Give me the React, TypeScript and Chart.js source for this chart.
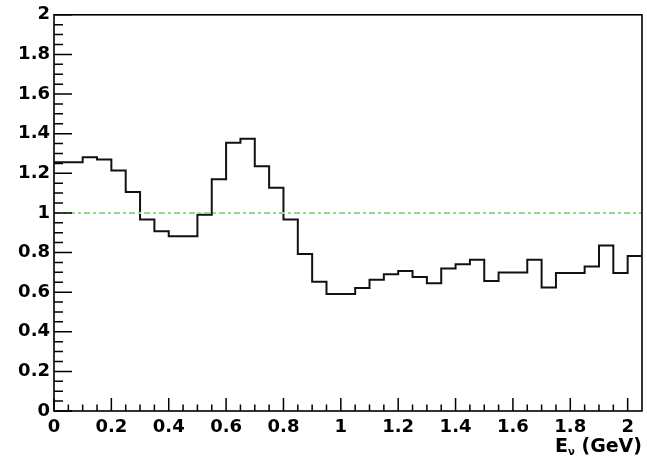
import React, { useEffect, useRef } from "react";
import { Chart, registerables } from "chart.js";

Chart.register(...registerables);

// Bin low edges (GeV) plus the final upper edge
const binEdges = [
  0, 0.05, 0.1, 0.15, 0.2, 0.25, 0.3, 0.35, 0.4, 0.45,
  0.5, 0.55, 0.6, 0.65, 0.7, 0.75, 0.8, 0.85, 0.9, 0.95,
  1.0, 1.05, 1.1, 1.15, 1.2, 1.25, 1.3, 1.35, 1.4, 1.45,
  1.5, 1.55, 1.6, 1.65, 1.7, 1.75, 1.8, 1.85, 1.9, 1.95,
  2.0, 2.05,
];

// Histogram contents per bin
const binValues = [
  1.256, 1.256, 1.281, 1.27, 1.214, 1.105, 0.967, 0.908, 0.882, 0.882,
  0.991, 1.17, 1.354, 1.374, 1.236, 1.127, 0.967, 0.792, 0.653, 0.591,
  0.591, 0.621, 0.663, 0.69, 0.707, 0.677, 0.645, 0.719, 0.741, 0.764,
  0.656, 0.699, 0.699, 0.764, 0.623, 0.697, 0.697, 0.73, 0.836, 0.697,
  0.782,
];

const referenceLevel = 1;

const xTickValues = [0, 0.2, 0.4, 0.6, 0.8, 1, 1.2, 1.4, 1.6, 1.8, 2];
const xTickLabels = ["0", "0.2", "0.4", "0.6", "0.8", "1", "1.2", "1.4", "1.6", "1.8", "2"];
const yTickValues = [0, 0.2, 0.4, 0.6, 0.8, 1, 1.2, 1.4, 1.6, 1.8, 2];
const yTickLabels = ["0", "0.2", "0.4", "0.6", "0.8", "1", "1.2", "1.4", "1.6", "1.8", "2"];

const xMin = 0;
const xMax = 2.05;
const yMin = 0;
const yMax = 2;
const minorStep = 0.05;

const labelFont = "DejaVu Sans";

const frameAndTicks = {
  id: "frameAndTicks",
  afterDraw(chart: any) {
    const { ctx, chartArea, scales } = chart;
    const { left, right, top, bottom } = chartArea;
    const x = scales.x;
    const y = scales.y;
    ctx.save();
    ctx.strokeStyle = "#000";
    ctx.lineWidth = 1.5;
    ctx.beginPath();
    // y ticks (inward)
    const nY = Math.round((yMax - yMin) / minorStep);
    for (let i = 0; i <= nY; i++) {
      const v = yMin + i * minorStep;
      const py = y.getPixelForValue(v);
      const len = i % 4 === 0 ? 18 : 9;
      ctx.moveTo(left, py);
      ctx.lineTo(left + len, py);
    }
    // x ticks (inward)
    const nX = Math.floor((xMax - xMin) / minorStep + 1e-6);
    for (let i = 0; i < nX; i++) {
      const v = xMin + i * minorStep;
      const px = x.getPixelForValue(v);
      const len = i % 4 === 0 ? 13 : 6.5;
      ctx.moveTo(px, bottom);
      ctx.lineTo(px, bottom - len);
    }
    ctx.stroke();
    // frame
    ctx.lineWidth = 1.6;
    ctx.strokeRect(left, top, right - left, bottom - top);

    // axis title: E_nu (GeV), right aligned
    ctx.fillStyle = "#000";
    ctx.textBaseline = "alphabetic";
    ctx.textAlign = "left";
    const mainFont = `bold 19px "${labelFont}"`;
    const subFont = `bold 10px "${labelFont}"`;
    ctx.font = mainFont;
    const wE = ctx.measureText("E").width;
    const wRest = ctx.measureText(" (GeV)").width;
    ctx.font = subFont;
    const wNu = ctx.measureText("ν").width;
    const baseline = 452;
    let sx = right - (wE + wNu + wRest);
    ctx.font = mainFont;
    ctx.fillText("E", sx, baseline);
    sx += wE;
    ctx.font = subFont;
    ctx.fillText("ν", sx, baseline + 3);
    sx += wNu;
    ctx.font = mainFont;
    ctx.fillText(" (GeV)", sx, baseline);
    ctx.restore();
  },
};

export default function App() {
  const canvasRef = useRef<HTMLCanvasElement | null>(null);

  useEffect(() => {
    const canvas = canvasRef.current;
    if (!canvas) return;

    const histPoints = binEdges.map((edge, i) => ({
      x: edge,
      y: i < binValues.length ? binValues[i] : binValues[binValues.length - 1],
    }));
    const refPoints = [
      { x: xMin, y: referenceLevel },
      { x: xMax, y: referenceLevel },
    ];

    const chart = new Chart(canvas, {
      type: "line",
      data: {
        datasets: [
          {
            label: "reference",
            data: refPoints,
            borderColor: "#8ddc8d",
            borderWidth: 2,
            borderDash: [6, 3, 3, 3],
            pointRadius: 0,
            fill: false,
          },
          {
            label: "ratio",
            data: histPoints,
            borderColor: "#111",
            borderWidth: 2,
            stepped: true,
            pointRadius: 0,
            fill: false,
          },
        ],
      },
      options: {
        responsive: false,
        animation: false,
        devicePixelRatio: 1,
        layout: { padding: { top: 14, right: 5, bottom: 0, left: 0 } },
        plugins: {
          legend: { display: false },
          tooltip: { enabled: false },
        },
        scales: {
          x: {
            type: "linear",
            min: xMin,
            max: xMax,
            grid: { display: false, drawTicks: false },
            border: { display: false },
            afterBuildTicks: (scale: any) => {
              scale.ticks = xTickValues.map((v) => ({ value: v }));
            },
            afterFit: (scale: any) => {
              scale.height = 51;
            },
            ticks: {
              autoSkip: false,
              maxRotation: 0,
              padding: 6,
              color: "#000",
              font: { family: labelFont, size: 18, weight: "bold" },
              callback: (value: any) => {
                const idx = xTickValues.findIndex((v) => Math.abs(v - value) < 1e-9);
                return idx >= 0 ? xTickLabels[idx] : "";
              },
            },
          },
          y: {
            type: "linear",
            min: yMin,
            max: yMax,
            grid: { display: false, drawTicks: false },
            border: { display: false },
            afterBuildTicks: (scale: any) => {
              scale.ticks = yTickValues.map((v) => ({ value: v }));
            },
            afterFit: (scale: any) => {
              scale.width = 54;
            },
            ticks: {
              autoSkip: false,
              padding: 4,
              color: "#000",
              font: { family: labelFont, size: 18, weight: "bold" },
              callback: (value: any) => {
                const idx = yTickValues.findIndex((v) => Math.abs(v - value) < 1e-9);
                return idx >= 0 ? yTickLabels[idx] : "";
              },
            },
          },
        },
      },
      plugins: [frameAndTicks],
    });

    return () => chart.destroy();
  }, []);

  return (
    <div style={{ position: "absolute", left: 0, top: 0, width: 647, height: 462, background: "#fff" }}>
      <canvas ref={canvasRef} width={647} height={462} style={{ display: "block" }} />
    </div>
  );
}
